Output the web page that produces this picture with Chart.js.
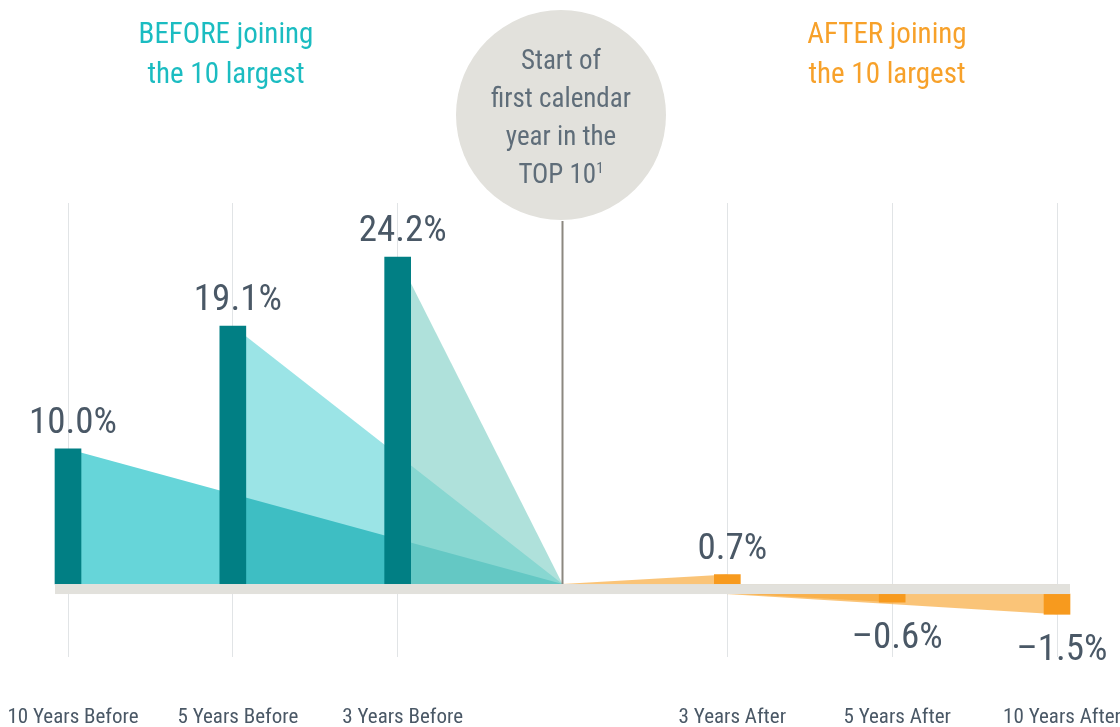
<!DOCTYPE html>
<html>
<head>
<meta charset="utf-8">
<script src="https://cdn.jsdelivr.net/npm/chart.js@4.4.1/dist/chart.umd.min.js"></script>
<style>
    html, body { margin: 0; padding: 0; background: #fff; }
    body { width: 1120px; height: 727px; position: relative; overflow: hidden;
           font-family: 'Liberation Sans Narrow', 'Roboto Condensed', 'DejaVu Sans Condensed', sans-serif; }
    #graphique { position: absolute; left: 0; top: 0; }
    .titre { position: absolute; width: 240px; text-align: center; font-size: 29px; line-height: 40px; top: 13px; }
    #avant { left: 106px; color: #1bbcc1; }
    #apres { left: 767px; color: #f7a12a; }
    #cercle { position: absolute; left: 456px; top: 10px; width: 210px; height: 210px; border-radius: 50%;
              background: #e2e1dc; color: #5f6d79; display: flex; align-items: center; justify-content: center;
              text-align: center; font-size: 27px; line-height: 38px; box-sizing: border-box; padding-top: 3px; }
    #cercle sup { font-size: 15px; vertical-align: top; line-height: 26px; }
</style>
</head>
<body>
<canvas id="graphique" width="1120" height="727"></canvas>
<div class="titre" id="avant">BEFORE joining<br>the 10 largest</div>
<div class="titre" id="apres">AFTER joining<br>the 10 largest</div>
<div id="cercle"><div>Start of<br>first calendar<br>year in the<br>TOP 10<sup>1</sup></div></div>

<script>
    // donnees
    const categories = ['10 Years Before', '5 Years Before', '3 Years Before', '', '3 Years After', '5 Years After', '10 Years After'];
    const valeurs = [10.0, 19.1, 24.2, null, 0.7, -0.6, -1.5];
    const etiquettes = ['10.0%', '19.1%', '24.2%', '', '0.7%', '–0.6%', '–1.5%'];
    const idxCentre = 3;

    // epaisseur de la bande grise autour de zero (en %)
    const BANDE = 0.74;
    const TEXTE = '#4a5866';
    const POLICE = "'Liberation Sans Narrow', 'Roboto Condensed', 'DejaVu Sans Condensed', sans-serif";

    const couleursBarres = ['#017f84', '#017f84', '#017f84', null, '#f79a1e', '#f79a1e', '#f79a1e'];
    const couleursTriangles = ['#66d5d9', '#9be4e6', 'rgba(124,206,196,0.61)', null,
        'rgba(247,166,50,0.66)', 'rgba(247,166,50,0.66)', 'rgba(247,166,50,0.66)'];
    const ordres = [3, 2, 1, null, 1, 1, 1];

    // barres flottantes : les negatives partent sous la bande grise
    const barres = valeurs.map(v => v === null ? null : (v >= 0 ? [0, v] : [-BANDE, v - BANDE]));

    function triangle(i) {
        const data = categories.map(() => null);
        data[idxCentre] = 0;
        data[i] = valeurs[i] >= 0 ? valeurs[i] : valeurs[i] - BANDE;
        return data;
    }

    let datasets = [{
        type: 'bar',
        data: barres,
        backgroundColor: couleursBarres,
        barThickness: 26,
        order: 0,
        clip: false
    }];
    let idx5ans = -1;
    valeurs.forEach(function (v, i) {
        if (v === null) return;
        if (i === 1) idx5ans = datasets.length;
        datasets.push({
            type: 'line',
            data: triangle(i),
            backgroundColor: couleursTriangles[i],
            borderWidth: 0,
            pointRadius: 0,
            tension: 0,
            spanGaps: true,
            fill: 'origin',
            order: ordres[i]
        });
    });

    const decor = {
        id: 'decor',
        beforeDatasetsDraw(chart) {
            chart.ctx.globalCompositeOperation = 'multiply';
        },
        afterDatasetDraw(chart, args) {
            if (args.index === idx5ans) chart.ctx.globalCompositeOperation = 'source-over';
        },
        afterDatasetsDraw(chart) {
            const ctx = chart.ctx;
            const x = chart.scales.x;
            const y = chart.scales.y;
            ctx.save();
            ctx.globalCompositeOperation = 'source-over';

            // bande grise
            const gauche = x.getPixelForValue(0) - 13;
            const droite = x.getPixelForValue(categories.length - 1) + 13;
            const y0 = y.getPixelForValue(0);
            const y1 = y.getPixelForValue(-BANDE);
            ctx.fillStyle = '#e2e1dc';
            ctx.fillRect(gauche, y0, droite - gauche, y1 - y0);

            // trait vertical du centre
            const xc = x.getPixelForValue(idxCentre);
            ctx.strokeStyle = '#8c8880';
            ctx.lineWidth = 2;
            ctx.beginPath();
            ctx.moveTo(xc, 221);
            ctx.lineTo(xc, y0);
            ctx.stroke();

            // valeurs
            const meta = chart.getDatasetMeta(0);
            ctx.fillStyle = TEXTE;
            ctx.font = '37px ' + POLICE;
            ctx.textAlign = 'center';
            ctx.textBaseline = 'alphabetic';
            valeurs.forEach(function (v, i) {
                if (v === null) return;
                const el = meta.data[i];
                const ty = v >= 0 ? el.y - 16 : el.y + 46;
                ctx.fillText(etiquettes[i], el.x + 5, ty);
            });
            ctx.restore();
        }
    };

    new Chart(document.getElementById('graphique').getContext('2d'), {
        type: 'bar',
        data: {
            labels: categories,
            datasets: datasets
        },
        options: {
            responsive: false,
            animation: false,
            layout: {
                padding: { left: 68, right: 63, top: 203, bottom: 0 }
            },
            plugins: {
                legend: { display: false },
                tooltip: { enabled: false }
            },
            scales: {
                x: {
                    offset: false,
                    grid: {
                        offset: false,
                        drawTicks: false,
                        color: ctx => ctx.index === idxCentre ? 'rgba(0,0,0,0)' : '#e1e4e6',
                        lineWidth: 1
                    },
                    border: { display: false },
                    ticks: {
                        color: TEXTE,
                        font: { family: POLICE, size: 21 },
                        padding: 48,
                        labelOffset: 5,
                        maxRotation: 0,
                        autoSkip: false
                    },
                    afterFit: function (scale) {
                        scale.paddingLeft = 0;
                        scale.paddingRight = 0;
                        scale.height = 70;
                    }
                },
                y: {
                    display: false,
                    min: -5.4,
                    max: 28.2
                }
            }
        },
        plugins: [decor]
    });
</script>
</body>
</html>
